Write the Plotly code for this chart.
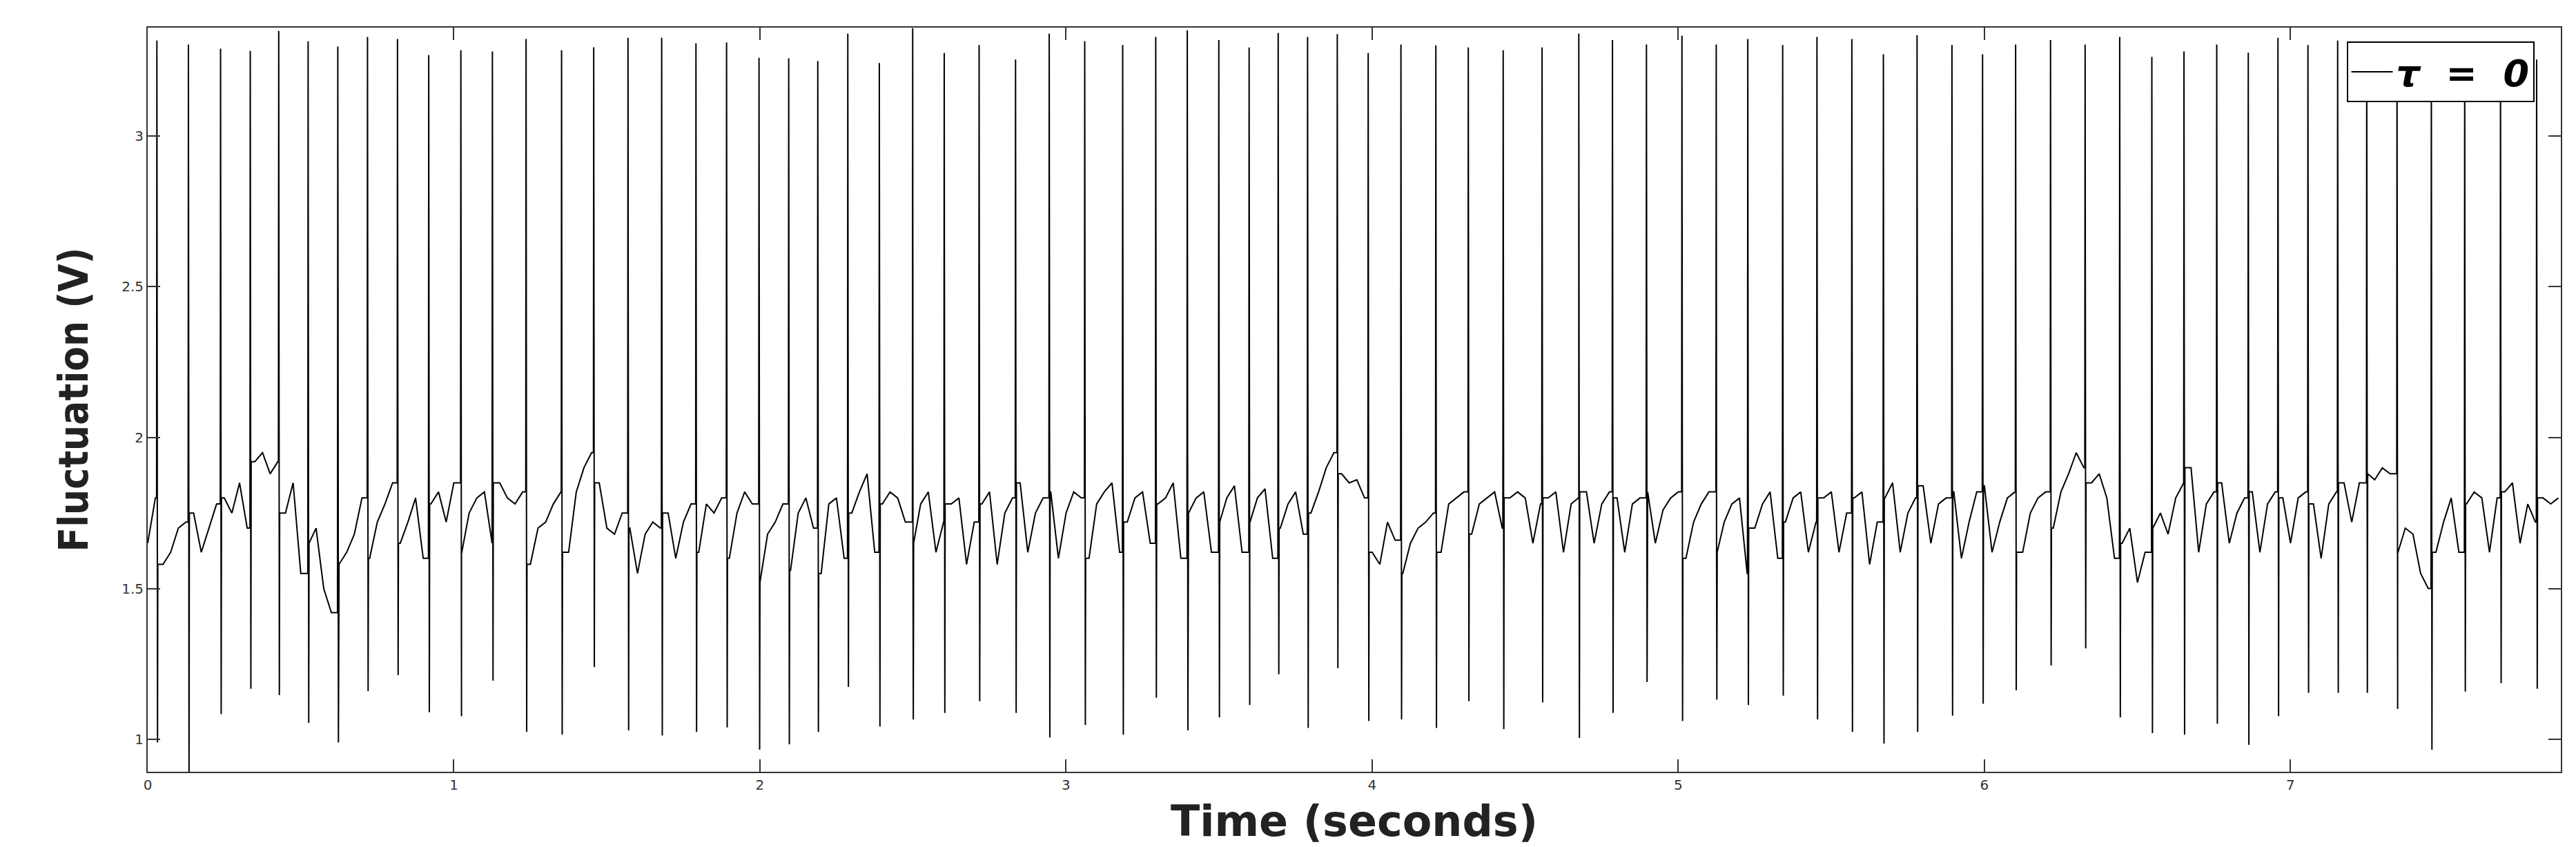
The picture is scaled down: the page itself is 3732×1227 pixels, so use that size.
import plotly.graph_objects as go

# spike onset times (s), peak and trough voltages
spike_t = [0.031, 0.134, 0.239, 0.336, 0.429, 0.525, 0.622, 0.719, 0.817, 0.919,
           1.024, 1.127, 1.237, 1.353, 1.458, 1.570, 1.680, 1.792, 1.892, 1.998,
           2.095, 2.190, 2.288, 2.391, 2.500, 2.603, 2.717, 2.836, 2.946, 3.062,
           3.186, 3.294, 3.397, 3.500, 3.599, 3.694, 3.790, 3.887, 3.988, 4.095,
           4.209, 4.315, 4.429, 4.556, 4.676, 4.786, 4.897, 5.013, 5.125, 5.228,
           5.342, 5.454, 5.568, 5.671, 5.781, 5.895, 5.995, 6.103, 6.217, 6.330,
           6.443, 6.548, 6.653, 6.760, 6.863, 6.960, 7.058, 7.155, 7.250, 7.349,
           7.461, 7.570, 7.687, 7.805]
spike_peak = [3.315, 3.302, 3.288, 3.281, 3.347, 3.313, 3.295, 3.327, 3.320, 3.267,
              3.283, 3.279, 3.320, 3.283, 3.293, 3.324, 3.324, 3.306, 3.309, 3.258,
              3.256, 3.247, 3.338, 3.241, 3.356, 3.274, 3.300, 3.252, 3.338, 3.313,
              3.300, 3.327, 3.349, 3.317, 3.292, 3.340, 3.327, 3.336, 3.274, 3.302,
              3.299, 3.292, 3.283, 3.292, 3.338, 3.317, 3.302, 3.331, 3.302, 3.320,
              3.300, 3.327, 3.320, 3.270, 3.333, 3.300, 3.270, 3.302, 3.317, 3.302,
              3.327, 3.261, 3.279, 3.302, 3.275, 3.324, 3.300, 3.315, 3.310, 3.306,
              3.297, 3.288, 3.279, 3.252]
spike_trough = [0.990, 0.850, 1.084, 1.168, 1.147, 1.055, 0.990, 1.160, 1.213, 1.090,
                1.077, 1.195, 1.025, 1.016, 1.240, 1.030, 1.013, 1.025, 1.040, 0.966,
                0.984, 1.025, 1.174, 1.043, 1.066, 1.088, 1.127, 1.088, 1.007, 1.048,
                1.016, 1.138, 1.030, 1.073, 1.114, 1.216, 1.038, 1.236, 1.061, 1.066,
                1.038, 1.127, 1.034, 1.123, 1.005, 1.088, 1.190, 1.061, 1.132, 1.114,
                1.145, 1.066, 1.025, 0.986, 1.025, 1.079, 1.118, 1.163, 1.245, 1.302,
                1.073, 1.021, 1.016, 1.052, 0.982, 1.077, 1.154, 1.154, 1.154, 1.101,
                0.966, 1.159, 1.186, 1.168]

# background level, one value every 0.025 s
base_step = 0.025
base_v = [
    1.65, 1.80, 1.58, 1.62, 1.70, 1.72, 1.75, 1.62, 1.70, 1.78, 1.80, 1.75, 1.85, 1.70, 1.92, 1.95, 1.88, 1.92, 1.75, 1.85,
    1.55, 1.65, 1.70, 1.50, 1.42, 1.58, 1.62, 1.68, 1.80, 1.60, 1.72, 1.78, 1.85, 1.65, 1.72, 1.80, 1.60, 1.78, 1.82, 1.72,
    1.85, 1.62, 1.75, 1.80, 1.82, 1.65, 1.85, 1.80, 1.78, 1.82, 1.58, 1.70, 1.72, 1.78, 1.82, 1.62, 1.82, 1.90, 1.95, 1.85,
    1.70, 1.68, 1.75, 1.70, 1.55, 1.68, 1.72, 1.70, 1.75, 1.60, 1.72, 1.78, 1.62, 1.78, 1.75, 1.80, 1.60, 1.75, 1.82, 1.78,
    1.52, 1.68, 1.72, 1.78, 1.56, 1.75, 1.80, 1.70, 1.55, 1.78, 1.80, 1.60, 1.75, 1.82, 1.88, 1.62, 1.78, 1.82, 1.80, 1.72,
    1.65, 1.78, 1.82, 1.62, 1.72, 1.78, 1.80, 1.58, 1.72, 1.78, 1.82, 1.58, 1.75, 1.80, 1.85, 1.62, 1.75, 1.80, 1.82, 1.60,
    1.75, 1.82, 1.80, 1.60, 1.78, 1.82, 1.85, 1.62, 1.72, 1.80, 1.82, 1.65, 1.78, 1.80, 1.85, 1.60, 1.75, 1.80, 1.82, 1.62,
    1.72, 1.80, 1.84, 1.62, 1.72, 1.80, 1.83, 1.60, 1.70, 1.78, 1.82, 1.68, 1.75, 1.82, 1.90, 1.95, 1.88, 1.85, 1.86, 1.80,
    1.62, 1.58, 1.72, 1.66, 1.55, 1.65, 1.70, 1.72, 1.75, 1.62, 1.78, 1.80, 1.82, 1.68, 1.78, 1.80, 1.82, 1.70, 1.80, 1.82,
    1.80, 1.65, 1.78, 1.80, 1.82, 1.62, 1.78, 1.80, 1.82, 1.65, 1.78, 1.82, 1.80, 1.62, 1.78, 1.80, 1.82, 1.65, 1.76, 1.80,
    1.82, 1.60, 1.72, 1.78, 1.82, 1.62, 1.72, 1.78, 1.80, 1.55, 1.70, 1.78, 1.82, 1.60, 1.72, 1.80, 1.82, 1.62, 1.72, 1.80,
    1.82, 1.62, 1.75, 1.80, 1.82, 1.58, 1.72, 1.80, 1.85, 1.62, 1.75, 1.80, 1.84, 1.65, 1.78, 1.80, 1.82, 1.60, 1.72, 1.82,
    1.84, 1.62, 1.72, 1.80, 1.82, 1.62, 1.75, 1.80, 1.82, 1.70, 1.82, 1.88, 1.95, 1.90, 1.85, 1.88, 1.80, 1.60, 1.65, 1.70,
    1.52, 1.62, 1.70, 1.75, 1.68, 1.80, 1.85, 1.90, 1.62, 1.78, 1.82, 1.85, 1.65, 1.75, 1.80, 1.82, 1.62, 1.78, 1.82, 1.80,
    1.65, 1.80, 1.82, 1.78, 1.60, 1.78, 1.82, 1.85, 1.72, 1.85, 1.88, 1.86, 1.90, 1.88, 1.62, 1.70, 1.68, 1.55, 1.50, 1.62,
    1.72, 1.80, 1.62, 1.78, 1.82, 1.80, 1.62, 1.80, 1.82, 1.85, 1.65, 1.78, 1.72, 1.80, 1.78, 1.80,
]

# merge background samples and spikes into one time-ordered trace;
# each spike leaves from and returns to the neighbouring background sample
pts = [(i * base_step, v) for i, v in enumerate(base_v)]
for t, hi, lo in zip(spike_t, spike_peak, spike_trough):
    k = int(t // base_step)
    before = base_v[k]
    after = base_v[min(k + 1, len(base_v) - 1)]
    pts += [(t - 0.002, before), (t - 0.001, hi), (t + 0.001, lo), (t + 0.002, after)]
pts.sort()
xs = [p[0] for p in pts]
ys = [p[1] for p in pts]

fig = go.Figure()
fig.add_trace(go.Scatter(x=xs, y=ys, mode='lines', name='<b><i>τ  =  0</i></b>',
                         line=dict(color='black', width=2)))

axis_common = dict(showline=True, mirror='ticks', linecolor='#333', linewidth=2,
                   ticks='inside', ticklen=18, tickwidth=2, tickcolor='#333',
                   showgrid=False, zeroline=False,
                   tickfont=dict(family='DejaVu Sans', size=20, color='#333'))

fig.update_xaxes(range=[0, 7.883], tickvals=[0, 1, 2, 3, 4, 5, 6, 7],
                 title=dict(text='<b>Time (seconds)</b>', standoff=20,
                            font=dict(family='DejaVu Sans', size=62, color='#222')),
                 **axis_common)
fig.update_yaxes(range=[0.893, 3.358], tickvals=[1, 1.5, 2, 2.5, 3],
                 ticktext=['1', '1.5', '2', '2.5', '3'],
                 title=dict(text='<b>Fluctuation (V)</b>', standoff=30,
                            font=dict(family='DejaVu Sans Condensed', size=58, color='#222')),
                 **axis_common)

fig.update_layout(
    width=3732, height=1227,
    margin=dict(l=206, r=30, t=32, b=117),
    plot_bgcolor='white', paper_bgcolor='white',
    showlegend=True,
    legend=dict(x=0.989, y=0.981, xanchor='right', yanchor='top',
                bordercolor='black', borderwidth=2, bgcolor='white',
                itemwidth=60,
                font=dict(family='DejaVu Sans', size=54, color='black')),
)

fig.write_html("out.html")
